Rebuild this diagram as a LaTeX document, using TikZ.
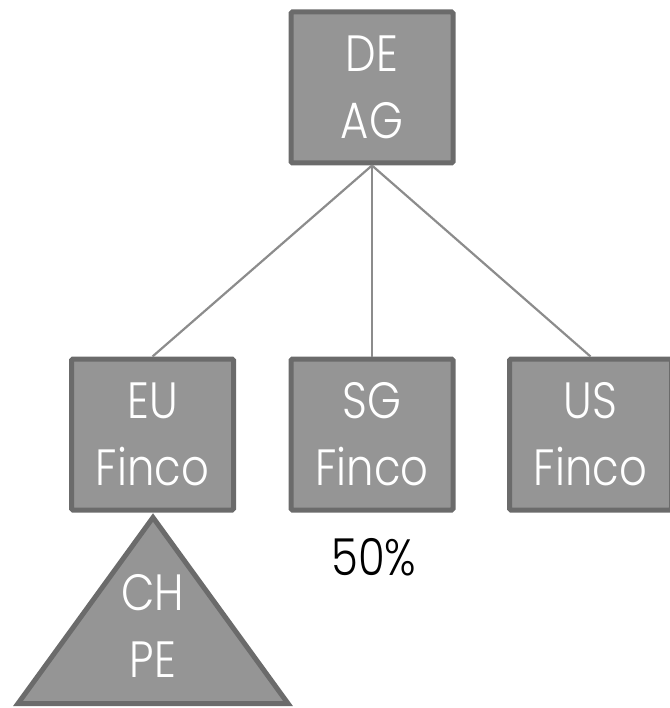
\documentclass[tikz,border=0pt]{standalone}
\usepackage{fontspec}
\setmainfont{Poppins}[UprightFont=* Light, FakeStretch=0.85]
\begin{document}
\definecolor{boxfill}{HTML}{959595}
\definecolor{boxedge}{HTML}{6B6B6B}
\definecolor{linkgray}{HTML}{8C8C8C}
\tikzset{
  entity/.style={draw=boxedge, fill=boxfill, line width=5pt, rounded corners=1.5pt,
    minimum width=162pt, minimum height=151pt, inner sep=0pt,
    text=white, align=center, font=\fontsize{51}{67}\selectfont},
  label/.style={text=white, align=center, font=\fontsize{51}{67}\selectfont},
  conn/.style={draw=linkgray, line width=2.2pt},
  share/.style={text=black, font=\fontsize{51}{60}\selectfont}
}
\begin{tikzpicture}[x=1pt,y=-1pt]
  \useasboundingbox (0,0) rectangle (669,708);
  \node[entity] (de) at (372,87.5) {DE\\AG};
  \node[entity] (eu) at (152.5,434.5) {EU\\Finco};
  \node[entity] (sg) at (372,434.5) {SG\\Finco};
  \node[entity] (us) at (590.5,434.5) {US\\Finco};
  % ownership links
  \draw[conn] (de.south) -- (eu.north);
  \draw[conn] (de.south) -- (sg.north);
  \draw[conn] (de.south) -- (us.north);
  % partnership below EU Finco
  \draw[draw=boxedge, fill=boxfill, line width=5pt, line join=miter]
    (153,517.5) -- (288,703.5) -- (18,703.5) -- cycle;
  \node[label] (chpe) at (153,626) {CH\\PE};
  \node[share] (pct) at (374,557) {50\%};
\end{tikzpicture}
\end{document}
